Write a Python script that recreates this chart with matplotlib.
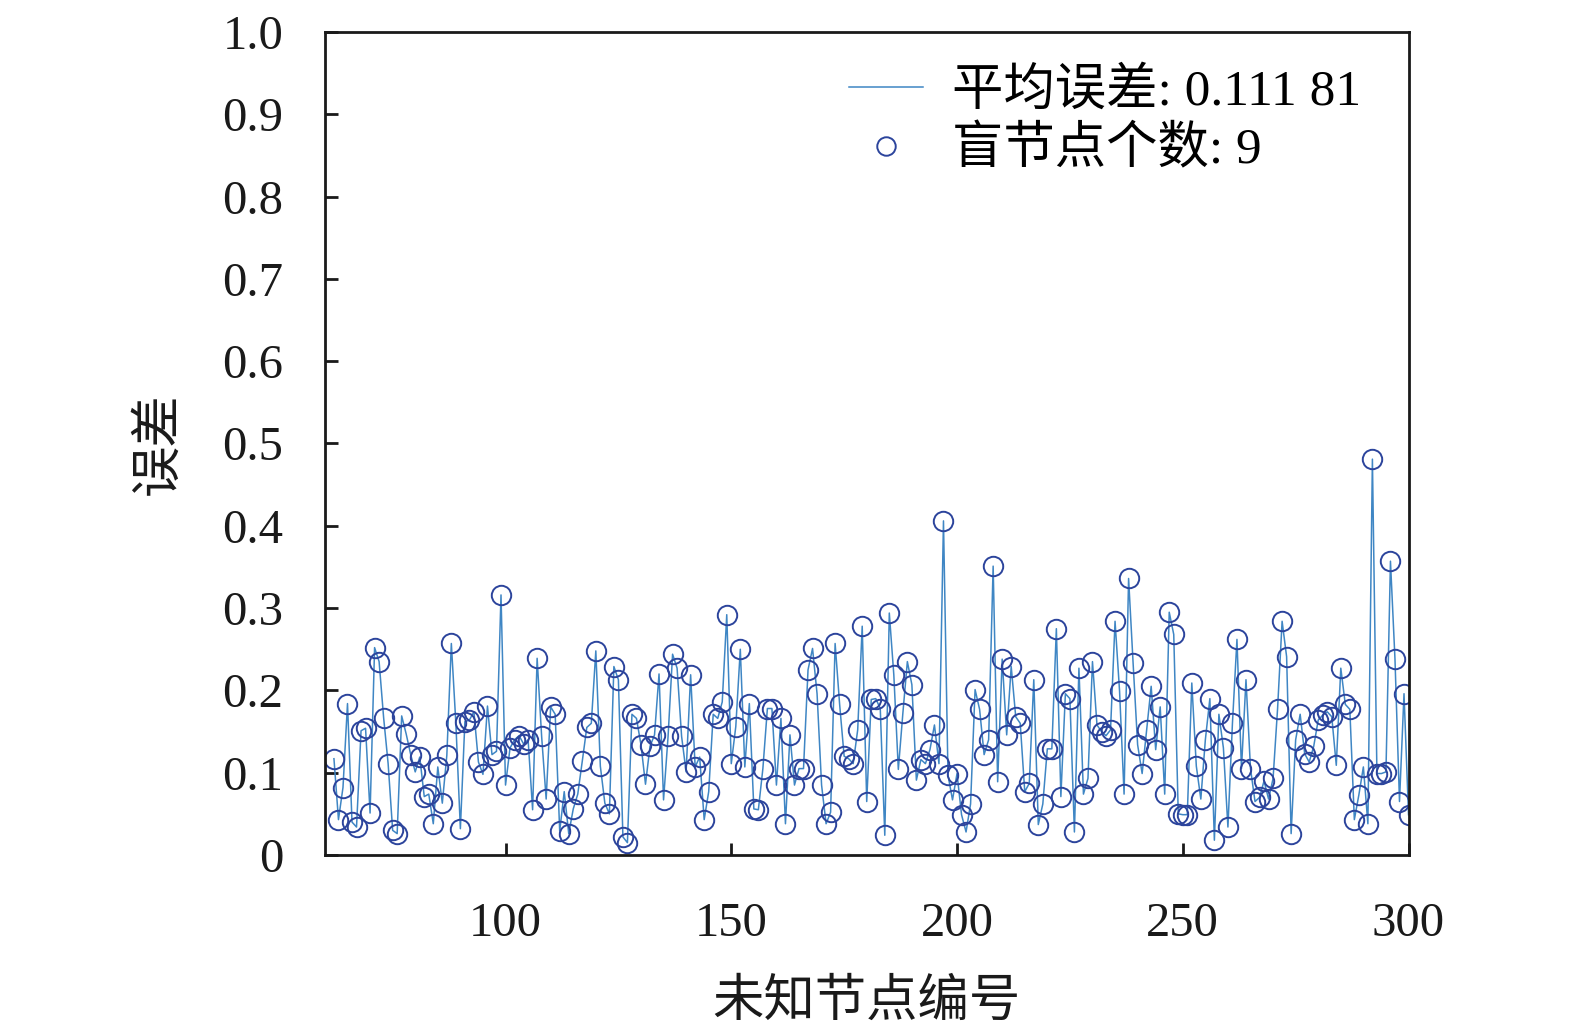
import matplotlib
matplotlib.use('agg')
import matplotlib.pyplot as plt
import numpy as np
from matplotlib.ticker import FuncFormatter

plt.rcParams['font.family'] = ['Liberation Serif', 'Noto Sans CJK SC']
plt.rcParams['axes.unicode_minus'] = False

# node ids 62..300, error in chunks of 20
node_ids = np.arange(62, 301)

err_062 = [0.117, 0.043, 0.082, 0.184, 0.040, 0.034, 0.151, 0.154, 0.051, 0.252,
           0.235, 0.167, 0.111, 0.030, 0.026, 0.169, 0.147, 0.122, 0.101, 0.119]
err_082 = [0.071, 0.074, 0.038, 0.107, 0.063, 0.121, 0.257, 0.160, 0.032, 0.162,
           0.164, 0.174, 0.113, 0.098, 0.181, 0.122, 0.126, 0.316, 0.085, 0.130]
err_102 = [0.140, 0.145, 0.135, 0.140, 0.055, 0.239, 0.144, 0.068, 0.180, 0.171,
           0.029, 0.077, 0.026, 0.056, 0.074, 0.114, 0.155, 0.160, 0.248, 0.108]
err_122 = [0.063, 0.050, 0.229, 0.213, 0.022, 0.015, 0.171, 0.166, 0.134, 0.086,
           0.132, 0.146, 0.220, 0.067, 0.144, 0.244, 0.227, 0.144, 0.101, 0.219]
err_142 = [0.107, 0.119, 0.043, 0.077, 0.171, 0.166, 0.186, 0.292, 0.111, 0.156,
           0.250, 0.107, 0.184, 0.056, 0.055, 0.105, 0.178, 0.178, 0.085, 0.166]
err_162 = [0.038, 0.146, 0.085, 0.105, 0.105, 0.225, 0.251, 0.196, 0.085, 0.038,
           0.052, 0.257, 0.183, 0.120, 0.117, 0.111, 0.152, 0.278, 0.065, 0.189]
err_182 = [0.190, 0.178, 0.024, 0.294, 0.219, 0.104, 0.172, 0.235, 0.207, 0.091,
           0.116, 0.111, 0.128, 0.158, 0.111, 0.406, 0.097, 0.067, 0.099, 0.049]
err_202 = [0.028, 0.062, 0.201, 0.177, 0.122, 0.140, 0.351, 0.089, 0.238, 0.146,
           0.229, 0.168, 0.160, 0.077, 0.087, 0.213, 0.037, 0.062, 0.129, 0.129]
err_222 = [0.275, 0.071, 0.196, 0.190, 0.028, 0.227, 0.074, 0.093, 0.235, 0.158,
           0.150, 0.145, 0.152, 0.284, 0.199, 0.074, 0.336, 0.233, 0.134, 0.099]
err_242 = [0.152, 0.205, 0.128, 0.180, 0.074, 0.295, 0.268, 0.050, 0.049, 0.049,
           0.209, 0.108, 0.068, 0.140, 0.190, 0.018, 0.171, 0.130, 0.034, 0.160]
err_262 = [0.262, 0.105, 0.213, 0.105, 0.065, 0.070, 0.090, 0.068, 0.093, 0.178,
           0.284, 0.241, 0.026, 0.140, 0.171, 0.123, 0.113, 0.132, 0.164, 0.170]
err_282 = [0.174, 0.168, 0.109, 0.227, 0.183, 0.177, 0.043, 0.073, 0.107, 0.038,
           0.481, 0.099, 0.099, 0.101, 0.357, 0.238, 0.065, 0.196, 0.049]

errors = (err_062 + err_082 + err_102 + err_122 + err_142 + err_162 +
          err_182 + err_202 + err_222 + err_242 + err_262 + err_282)

label_mean = '平均误差: 0.111 81'
label_blind = '盲节点个数: 9'
x_ticks = [100, 150, 200, 250, 300]
y_ticks = [0, 0.1, 0.2, 0.3, 0.4, 0.5, 0.6, 0.7, 0.8, 0.9, 1.0]

line_color = '#3f86c4'
marker_color = '#2c449c'

fig = plt.figure(figsize=(15.75, 10.35), dpi=100)
ax = fig.add_axes([0.2063, 0.1739, 0.6880, 0.7952])

ax.plot(node_ids, errors, color=line_color, lw=1.1, label=label_mean)
ax.plot(node_ids, errors, 'o', mfc='none', mec=marker_color, mew=1.4, ms=14,
        label=label_blind)

ax.set_xlim(60, 300)
ax.set_ylim(0, 1.0)
ax.set_xticks(x_ticks)
ax.set_yticks(y_ticks)
ax.yaxis.set_major_formatter(FuncFormatter(lambda v, p: '0' if v == 0 else '%.1f' % v))

ax.tick_params(direction='in', length=9, width=2, labelsize=35, colors='#1a1a1a')
ax.tick_params(axis='y', pad=30)
ax.tick_params(axis='x', pad=34)
for s in ax.spines.values():
    s.set_linewidth(2)
    s.set_color('#1a1a1a')

ax.set_xlabel('未知节点编号', fontsize=37, color='#1a1a1a', labelpad=24)
ax.set_ylabel('误差', fontsize=37, color='#1a1a1a', labelpad=28)

ax.legend(loc='upper right', bbox_to_anchor=(0.982, 0.99), frameon=False,
          fontsize=37, handlelength=1.45, handletextpad=0.55, labelspacing=0.2,
          markerscale=0.95, borderaxespad=0.25, borderpad=0.3)

fig.savefig('out.png', dpi=100)
